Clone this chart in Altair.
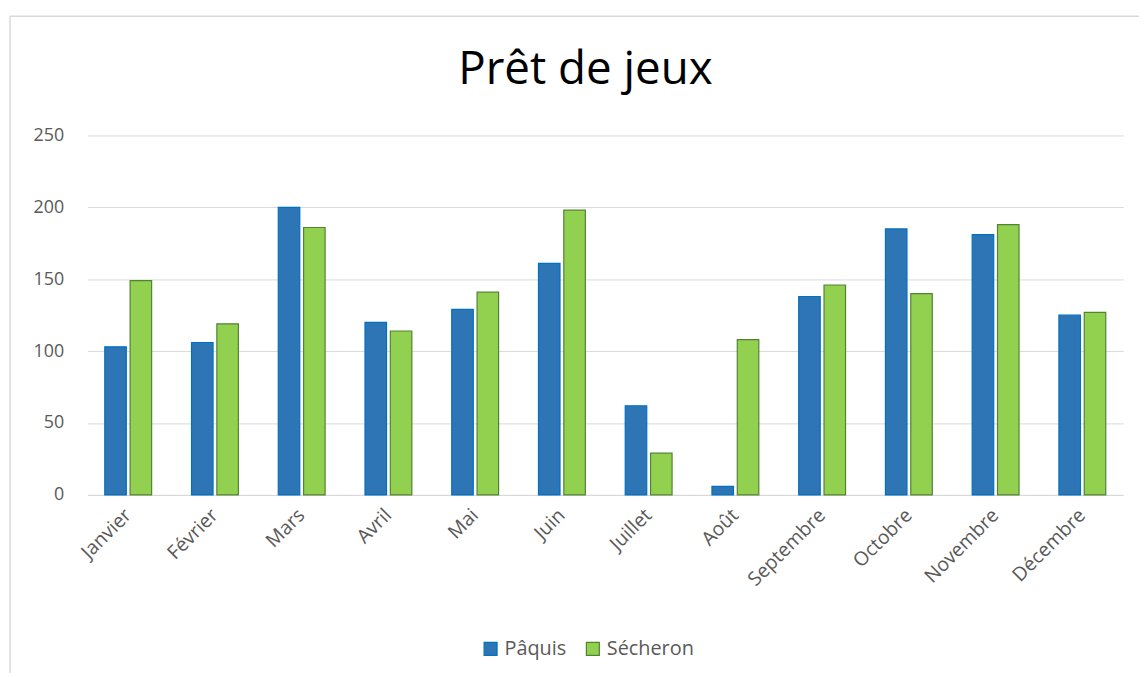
import altair as alt
import pandas as pd

months = ["Janvier", "Février", "Mars", "Avril", "Mai", "Juin", "Juillet",
          "Août", "Septembre", "Octobre", "Novembre", "Décembre"]
series = ["Pâquis", "Sécheron"]
paquis = [103, 106, 200, 120, 129, 161, 62, 6, 138, 185, 181, 125]
secheron = [149, 119, 186, 114, 141, 198, 29, 108, 146, 140, 188, 127]

rows = []
for m, a, b in zip(months, paquis, secheron):
    rows.append({"mois": m, "site": series[0], "valeur": a})
    rows.append({"mois": m, "site": series[1], "valeur": b})
df = pd.DataFrame(rows)

FONT = "Open Sans"
W, H = 1043, 362

bars = alt.Chart(df).mark_bar(strokeWidth=1.2).encode(
    x=alt.X("mois:N", sort=months, title=None,
            scale=alt.Scale(paddingInner=0.46, paddingOuter=0.2),
            axis=alt.Axis(labelAngle=-45, labelAlign="right", labelBaseline="middle",
                          labelFontSize=19.5, labelColor="#595959", labelFont=FONT,
                          ticks=False, domainColor="#d9d9d9", labelPadding=17)),
    xOffset=alt.XOffset("site:N", sort=series, scale=alt.Scale(paddingInner=0.15)),
    y=alt.Y("valeur:Q", title=None,
            scale=alt.Scale(domain=[0, 250]),
            axis=alt.Axis(values=[0, 50, 100, 150, 200, 250], labelFontSize=18,
                          labelColor="#595959", labelFont=FONT, ticks=False,
                          domain=False, gridColor="#d9d9d9", labelPadding=24)),
    color=alt.Color("site:N", sort=series,
                    scale=alt.Scale(domain=series, range=["#2E75B6", "#92D050"]),
                    legend=alt.Legend(title=None, orient="none", direction="horizontal",
                                      legendX=396, legendY=507, symbolType="square",
                                      symbolSize=170, labelFontSize=20, labelFont=FONT,
                                      labelColor="#595959", symbolStrokeWidth=1.2,
                                      columnPadding=16, labelOffset=4)),
    stroke=alt.Stroke("site:N", sort=series,
                      scale=alt.Scale(domain=series, range=["#0070C0", "#548235"]),
                      legend=None),
)

border_data = pd.DataFrame({"edge": ["top", "left"]})
top_edge = alt.Chart(border_data).transform_filter("datum.edge == 'top'").mark_rule(
    color="#d9d9d9", strokeWidth=1.5).encode(
    x=alt.value(-78), x2=alt.value(W + 30), y=alt.value(-120))
left_edge = alt.Chart(border_data).transform_filter("datum.edge == 'left'").mark_rule(
    color="#d9d9d9", strokeWidth=1.5).encode(
    x=alt.value(-78), y=alt.value(-120), y2=alt.value(H + 200))

chart = alt.layer(bars, top_edge, left_edge).properties(
    width=W, height=H,
    title=alt.TitleParams("Prêt de jeux", fontSize=46, font=FONT, fontWeight="normal",
                          color="#000000", offset=-79, dx=-20),
    padding={"left": 80, "top": 126, "right": 16, "bottom": 177},
    autosize=alt.AutoSizeParams(type="none"),
).configure(background="white").configure_view(strokeWidth=0)

chart.save("out.html", embed_options={"renderer": "svg", "actions": False})
